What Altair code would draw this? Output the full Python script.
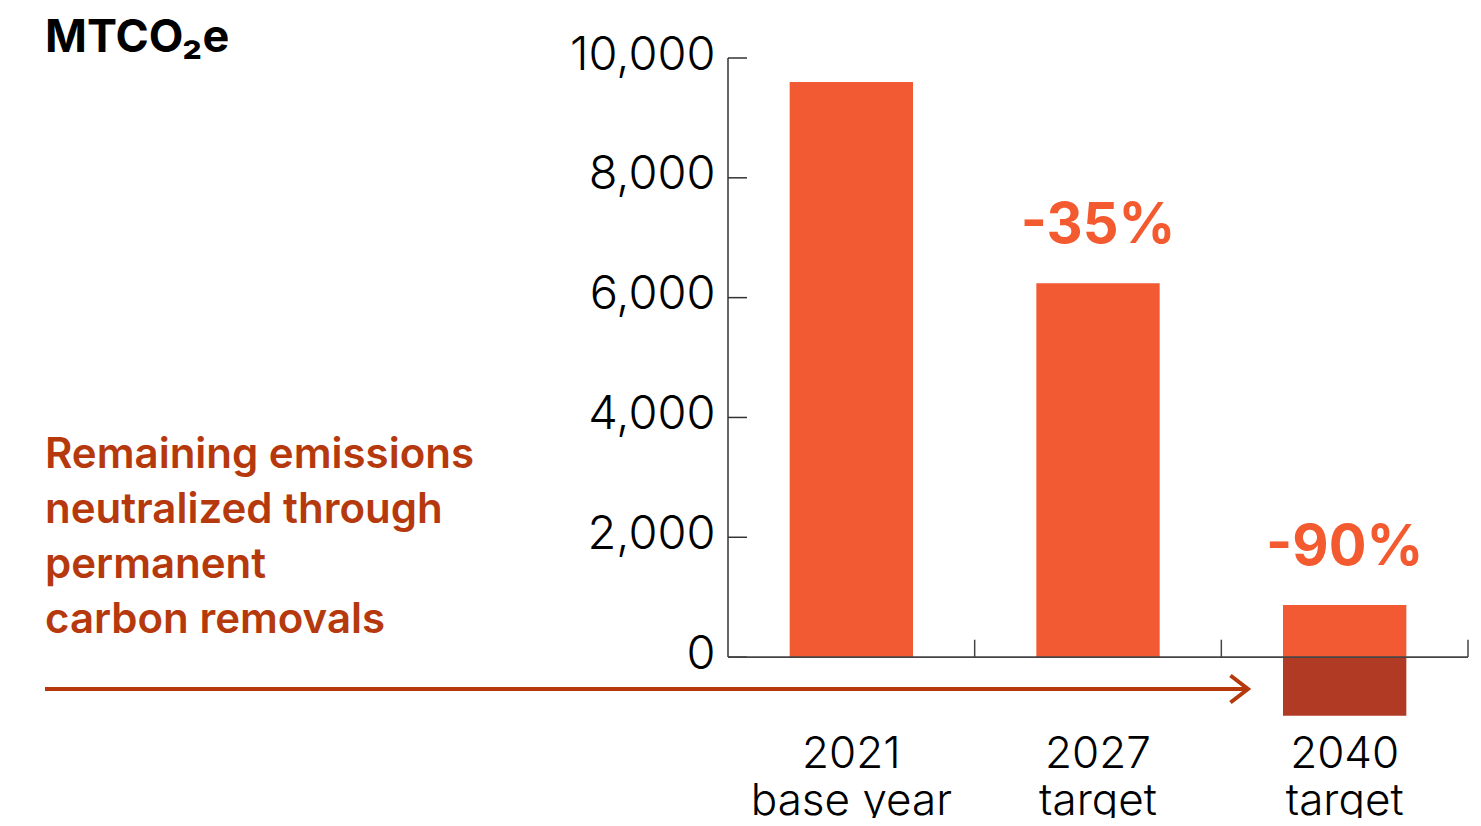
import altair as alt
import pandas as pd

# ---- data ----
categories = ["2021", "2027", "2040"]
sublabels = ["base year", "target", "target"]
emissions = [9600, 6240, 870]
removals = [0, 0, -980]
reductions = ["", "-35%", "-90%"]
y_ticks = [0, 2000, 4000, 6000, 8000, 10000]

title_text = "MTCO₂e"
note_lines = ["Remaining emissions", "neutralized through", "permanent", "carbon removals"]

ORANGE = "#f15a33"
DARK = "#b03a24"
NOTE = "#b5390d"
FONT = "Inter"

W, H = 740, 659
PAD = {"left": 720, "top": 50, "right": 5, "bottom": 101}

df = pd.DataFrame({
    "label": [f"{c}|{s}" for c, s in zip(categories, sublabels)],
    "emissions": emissions,
    "removals": removals,
    "reduction": reductions,
})
ticks_df = pd.DataFrame({"tick": y_ticks})

x_axis = alt.Axis(labelExpr="split(datum.label, '|')", labelAngle=0, domain=False, ticks=False,
                  labelFont=FONT, labelFontSize=44, labelFontWeight=300, labelColor="#000",
                  labelLineHeight=47, labelPadding=15, labelBaseline="top", labelLimit=0,
                  title=None)
x_scale = alt.Scale(paddingInner=0, paddingOuter=0)
y_axis = alt.Axis(values=y_ticks, format=",d", domain=False, ticks=False, grid=False,
                  labelFont=FONT, labelFontSize=47, labelFontWeight=300, labelColor="#000",
                  labelPadding=13, labelOffset=-3, title=None)
y_scale = alt.Scale(domain=[-1000, 10000], nice=False, zero=False)


def X(**kw):
    return alt.X("label:N", sort=None, scale=x_scale, axis=x_axis, **kw)


def Y(field):
    return alt.Y(field, scale=y_scale, axis=y_axis)


bars = alt.Chart(df).mark_bar(color=ORANGE, width={"band": 0.5}).encode(
    x=X(), y=Y("emissions:Q"), y2=alt.datum(0),
)

neg = alt.Chart(df).transform_filter("datum.removals < 0").mark_bar(
    color=DARK, width={"band": 0.5}).encode(
    x=X(), y=Y("removals:Q"), y2=alt.datum(0),
)

pct = alt.Chart(df).transform_filter("datum.reduction != ''").mark_text(
    color="#f45a2f", font=FONT, fontSize=56, fontWeight="bold", dy=-40, baseline="alphabetic"
).encode(
    x=X(), y=Y("emissions:Q"), text="reduction:N",
)

yline = alt.Chart(pd.DataFrame({"a": [0]})).mark_rule(color="#333", strokeWidth=1.5).encode(
    x=alt.value(0), y=alt.datum(0), y2=alt.datum(10000)
)
yticks = alt.Chart(ticks_df).mark_rule(color="#333", strokeWidth=1.5).encode(
    x=alt.value(0), x2=alt.value(19), y=Y("tick:Q")
)
zero = alt.Chart(pd.DataFrame({"a": [0]})).mark_rule(color="#444", strokeWidth=1.8).encode(
    x=alt.value(0), x2=alt.value(W), y=alt.datum(0)
)
xt_start = alt.Chart(df).transform_filter("datum.label != '2021|base year'").mark_rule(
    color="#444", strokeWidth=1.5).encode(
    x=X(bandPosition=0), y=alt.datum(0), y2=alt.datum(290)
)
xt_end = alt.Chart(df).transform_filter("datum.label == '2040|target'").mark_rule(
    color="#444", strokeWidth=1.5).encode(
    x=X(bandPosition=1), y=alt.datum(0), y2=alt.datum(290)
)

title = alt.Chart(pd.DataFrame({"t": [title_text]})).mark_text(
    font=FONT, fontSize=45, fontWeight="bold", color="#000", align="left", baseline="alphabetic"
).encode(x=alt.value(-683), y=alt.value(-6), text="t:N")

note = alt.Chart(pd.DataFrame({"t": ["|".join(note_lines)]})).mark_text(
    font=FONT, fontSize=42, fontWeight=600, color=NOTE, align="left", baseline="alphabetic",
    lineBreak="|", lineHeight=55
).encode(x=alt.value(-683), y=alt.value(410), text="t:N")

arrow = alt.Chart(pd.DataFrame({"a": [0]})).mark_rule(color=NOTE, strokeWidth=4).encode(
    x=alt.value(-683), x2=alt.value(518), y=alt.value(631)
)
head = alt.Chart(pd.DataFrame({"a": [0]})).mark_point(
    shape="M-1.3,-1L0,0L-1.3,1", filled=False, stroke=NOTE, strokeWidth=4, size=729, opacity=1
).encode(x=alt.value(520), y=alt.value(631))

chart = alt.layer(
    bars, neg, pct, yline, yticks, zero, xt_start, xt_end, title, note, arrow, head
).properties(
    width=W, height=H, autosize=alt.AutoSizeParams(type="none"), padding=PAD
).configure_view(stroke=None)

chart.save("out.html", embed_options={"renderer": "svg", "actions": False})
